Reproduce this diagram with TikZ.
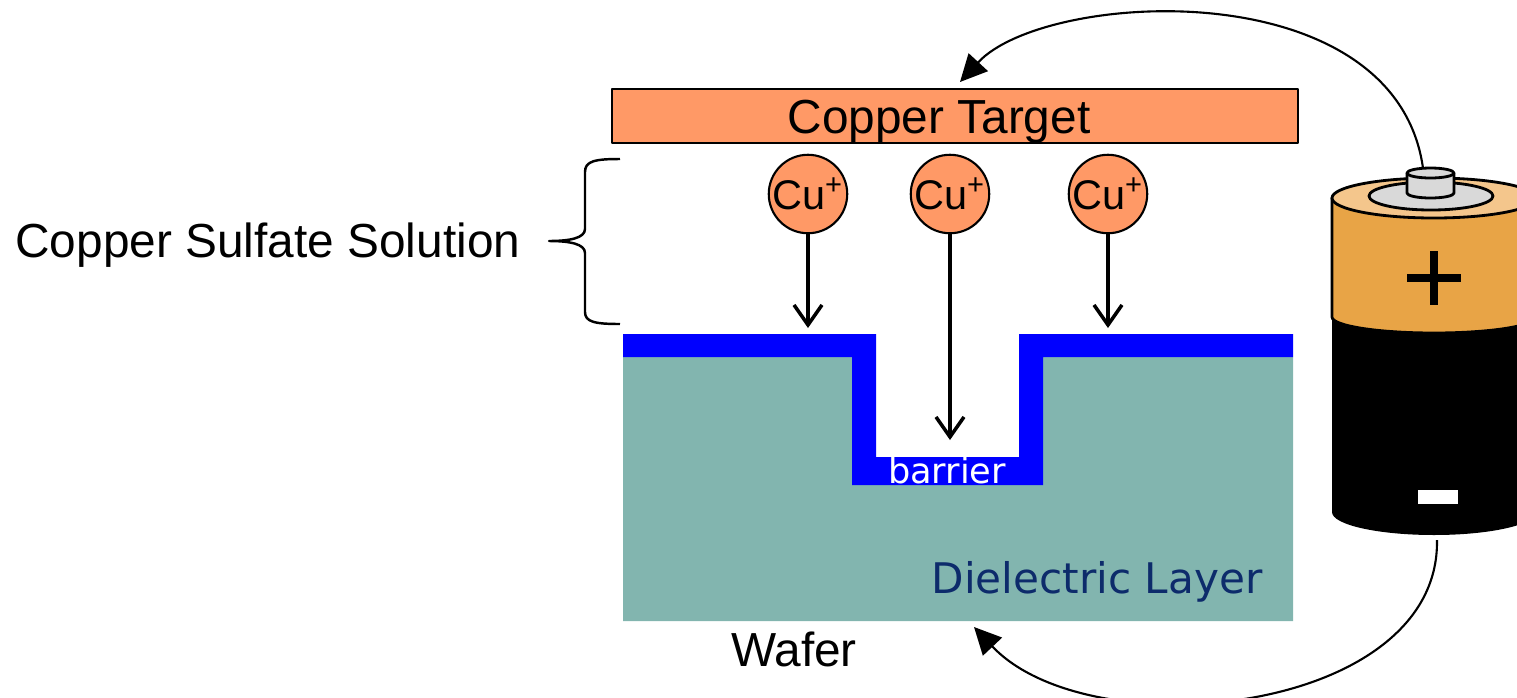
\documentclass[tikz,border=0pt]{standalone}
\usepackage{fontspec}
\setmainfont{Liberation Sans}
\newfontfamily\labelfont{DejaVu Sans}
\usetikzlibrary{arrows.meta}
\definecolor{targetorange}{HTML}{FF9966}
\definecolor{dielectric}{HTML}{82B5AF}
\definecolor{navy}{HTML}{0D2B6B}
\definecolor{cellbody}{HTML}{E8A446}
\definecolor{celltop}{HTML}{F4C68C}
\definecolor{cellpin}{HTML}{D9D9D9}

\begin{document}
\begin{tikzpicture}[every node/.style={font=\fontsize{13.6}{16}\selectfont}, line join=round,
  ion/.style={circle, draw, line width=0.6pt, fill=targetorange, minimum size=7.8mm, inner sep=0pt,
              font=\fontsize{11.8}{14}\selectfont},
  drop/.style={-{Straight Barb[length=2mm,width=2.8mm]}, line width=1pt},
  wire/.style={-{Triangle[length=2.7mm,width=2.6mm]}, line width=0.6pt}]

\useasboundingbox (0,0) rectangle (15.17,-6.98);

% ---------- wafer: dielectric with a barrier-lined trench ----------
\fill[dielectric] (6.23,-3.57) -- (8.52,-3.57) -- (8.52,-4.85) -- (10.43,-4.85) -- (10.43,-3.57)
  -- (12.93,-3.57) -- (12.93,-6.21) -- (6.23,-6.21) -- cycle;
\fill[blue] (6.23,-3.34) -- (8.76,-3.34) -- (8.76,-4.57) -- (10.19,-4.57) -- (10.19,-3.34)
  -- (12.93,-3.34) -- (12.93,-3.57) -- (10.43,-3.57) -- (10.43,-4.85) -- (8.52,-4.85)
  -- (8.52,-3.57) -- (6.23,-3.57) -- cycle;
\node[anchor=base, text=white, font=\labelfont\fontsize{10}{12}\selectfont] (barrier) at (9.47,-4.83) {barrier};
\node[anchor=base, text=navy, font=\labelfont\fontsize{12}{14}\selectfont] (dlayer) at (10.97,-5.93) {Dielectric Layer};
\node[anchor=base] (wafer) at (7.94,-6.66) {Wafer};
\coordinate (waferin) at (9.74,-6.27);

% ---------- target and ions ----------
\node[draw, line width=0.8pt, fill=targetorange, minimum width=6.86cm, minimum height=5.4mm, inner sep=0pt]
  (target) at (9.55,-1.16) {};
\node[anchor=base] (targetlbl) at (9.39,-1.33) {Copper Target};
\coordinate (targetin) at (9.60,-0.82);

\foreach \n/\x/\y in {1/8.08/-3.28, 2/9.50/-4.40, 3/11.08/-3.28} {
  \node[ion] (cu\n) at (\x,-1.94) {Cu\textsuperscript{+}};
  \coordinate (land\n) at (\x,\y);
  \draw[drop] (cu\n.south) -- (land\n);
}

% ---------- solution bracket ----------
\coordinate (soltop) at (6.20,-1.59);
\coordinate (solbot) at (6.20,-3.24);
\coordinate (soltip) at (5.49,-2.41);
\draw[line width=0.7pt] (soltop) .. controls (5.95,-1.59) and (5.85,-1.61) .. (5.85,-1.72) -- (5.85,-2.29)
  .. controls (5.85,-2.38) and (5.70,-2.41) .. (soltip)
  .. controls (5.70,-2.41) and (5.85,-2.44) .. (5.85,-2.53) -- (5.85,-3.12)
  .. controls (5.85,-3.22) and (5.95,-3.24) .. (solbot);
\node[anchor=base east, inner sep=0pt] (solution) at (5.21,-2.57) {Copper Sulfate Solution};

% ---------- battery ----------
\fill (13.32,-3.17) -- (13.32,-5.12) arc[start angle=180, end angle=360, x radius=1.02, y radius=0.23]
  -- (15.36,-3.17) -- cycle;
\filldraw[fill=cellbody, line width=0.8pt] (13.32,-1.98) -- (13.32,-3.17)
  arc[start angle=180, end angle=360, x radius=1.02, y radius=0.16] -- (15.36,-1.98) -- cycle;
\filldraw[fill=celltop, line width=0.8pt] (14.34,-1.98) ellipse[x radius=1.02, y radius=0.20];
\filldraw[fill=cellpin, line width=0.8pt] (14.31,-1.96) ellipse[x radius=0.62, y radius=0.14];
\filldraw[fill=cellpin, line width=0.8pt] (14.07,-1.73) -- (14.07,-1.93)
  arc[start angle=180, end angle=360, x radius=0.235, y radius=0.05] -- (14.54,-1.73) -- cycle;
\filldraw[fill=cellpin, line width=0.8pt] (14.305,-1.73) ellipse[x radius=0.235, y radius=0.05];
\fill (14.07,-2.74) rectangle (14.61,-2.82);
\fill (14.30,-2.51) rectangle (14.38,-3.05);
\fill[white] (14.18,-4.90) rectangle (14.58,-5.04);
\coordinate (anode) at (14.23,-1.68);
\coordinate (cathode) at (14.37,-5.40);

% ---------- circuit ----------
\draw[wire] (anode) .. controls (13.95,0.30) and (10.45,0.10) .. (targetin);
\draw[wire] (cathode) .. controls (14.40,-7.15) and (10.90,-7.50) .. (waferin);

\end{tikzpicture}
\end{document}
